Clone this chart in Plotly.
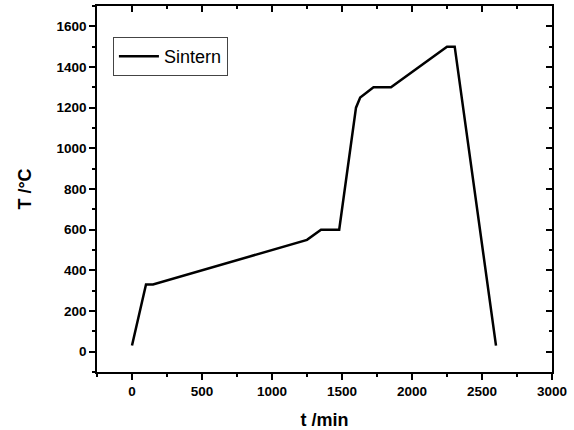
import plotly.graph_objects as go

# Sintering temperature profile
t_min = [0, 100, 150, 1250, 1350, 1480, 1600, 1630, 1725, 1850, 2250, 2305, 2600]
T_degC = [30, 330, 330, 550, 600, 600, 1200, 1250, 1300, 1300, 1500, 1500, 30]
series_name = "Sintern"

x_ticks = [0, 500, 1000, 1500, 2000, 2500, 3000]
y_ticks = [0, 200, 400, 600, 800, 1000, 1200, 1400, 1600]

FONT = "Liberation Sans, Arial, sans-serif"

fig = go.Figure()
fig.add_trace(go.Scatter(
    x=t_min, y=T_degC, mode="lines", name=series_name,
    line=dict(color="black", width=2.5),
))
# invisible companion trace to anchor the mirrored (top/right) axes
fig.add_trace(go.Scatter(
    x=t_min, y=T_degC, mode="lines", xaxis="x2", yaxis="y2",
    line=dict(color="rgba(0,0,0,0)", width=0), showlegend=False, hoverinfo="skip",
))

axis_common = dict(showgrid=False, zeroline=False, showline=True, automargin=False,
                   linecolor="black", linewidth=1.5, tickcolor="black", tickwidth=1.5)

fig.update_layout(
    width=574, height=430,
    margin=dict(l=97, r=22, t=6, b=58, autoexpand=False),
    paper_bgcolor="white", plot_bgcolor="white",
    font=dict(family=FONT, color="black"),
    showlegend=True,
    legend=dict(
        x=0.035, y=0.915, xanchor="left", yanchor="top",
        bgcolor="white", bordercolor="#444", borderwidth=1,
        font=dict(family=FONT, size=18, color="black"),
        itemwidth=40, tracegroupgap=0,
    ),
    xaxis=dict(
        **axis_common, range=[-250, 3000], tickvals=x_ticks,
        ticks="outside", ticklen=6,
        minor=dict(ticks="outside", ticklen=3, dtick=250, tick0=0, tickcolor="black", tickwidth=1.5),
        tickfont=dict(family=FONT, size=13.5, weight="bold"),
        title=dict(text="t /min", font=dict(family=FONT, size=18, weight="bold"), standoff=16),
    ),
    yaxis=dict(
        **axis_common, range=[-100, 1700], tickvals=y_ticks,
        ticks="outside", ticklen=6,
        minor=dict(ticks="outside", ticklen=3, dtick=100, tick0=0, tickcolor="black", tickwidth=1.5),
        tickfont=dict(family=FONT, size=13.5, weight="bold"),
        title=dict(text="T /°C", font=dict(family=FONT, size=18, weight="bold"), standoff=20),
    ),
    xaxis2=dict(
        **axis_common, range=[-250, 3000], tickvals=x_ticks, overlaying="x", side="top",
        ticks="inside", ticklen=6, showticklabels=False,
        minor=dict(ticks="inside", ticklen=3, dtick=250, tick0=0, tickcolor="black", tickwidth=1.5),
    ),
    yaxis2=dict(
        **axis_common, range=[-100, 1700], tickvals=y_ticks, overlaying="y", side="right",
        ticks="inside", ticklen=6, showticklabels=False,
        minor=dict(ticks="inside", ticklen=3, dtick=100, tick0=0, tickcolor="black", tickwidth=1.5),
    ),
)

fig.write_html("out.html", config={"displayModeBar": False},
               post_script="document.body.style.margin='0px';document.body.style.overflow='hidden';")
